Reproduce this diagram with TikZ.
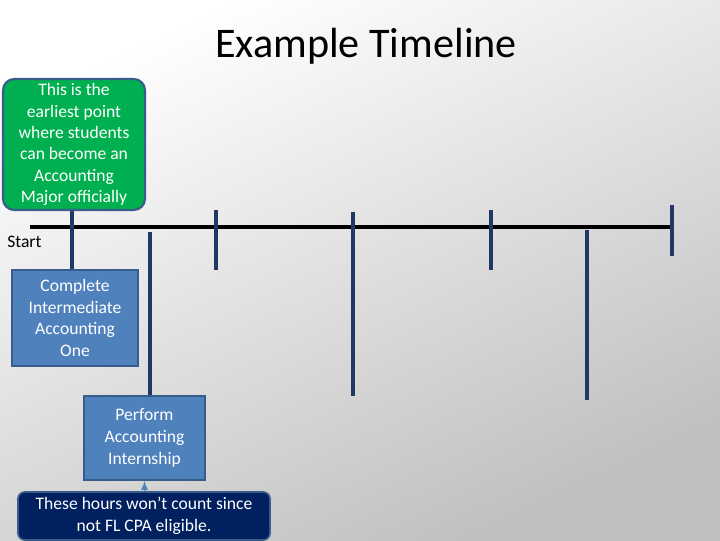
\documentclass[tikz,border=0pt]{standalone}
\usepackage{fontspec}
\setmainfont{Carlito}
\usetikzlibrary{positioning}
\definecolor{tickblue}{RGB}{31,56,100}
\definecolor{boxblue}{RGB}{79,129,189}
\definecolor{boxedge}{RGB}{56,93,138}
\definecolor{majorgreen}{RGB}{0,176,80}
\definecolor{navy}{RGB}{0,32,96}
\begin{document}
\begin{tikzpicture}[x=0.025cm,y=-0.025cm,
    tick/.style={draw=tickblue,line width=2.2pt},
    stepbox/.style={draw=boxedge,line width=1.2pt,fill=boxblue,text=white,align=center,font=\fontsize{12.5}{15.5}\selectfont,inner sep=1pt},
    greenbox/.style={draw=boxedge,line width=1.5pt,fill=majorgreen,text=white,align=center,rounded corners=8pt,font=\fontsize{12.5}{15.2}\selectfont,inner sep=1pt},
    notebox/.style={draw=boxedge,line width=1.2pt,fill=navy,text=white,align=center,rounded corners=5pt,font=\fontsize{12.5}{15.5}\selectfont,inner sep=1pt}]
   \shade[top color=white,bottom color=black!25,shading angle=25] (0,0) rectangle (720,540);
   \useasboundingbox (0,0) rectangle (720,540);
   \node (title) at (366,46) {\fontsize{30}{33}\selectfont Example Timeline};
   \node[greenbox,minimum width=3.55cm,minimum height=3.275cm] (major) at (74,144.5)
     {This is the\\earliest point\\where students\\can become an\\Accounting\\Major officially};
   \node[stepbox,minimum width=3.15cm,minimum height=2.4cm] (inter) at (75,318)
     {Complete\\Intermediate\\Accounting\\One};
   \node[stepbox,minimum width=3.025cm,minimum height=2.1cm] (intern) at (144.5,438)
     {Perform\\Accounting\\Internship};
   \node[notebox,minimum width=6.3cm,minimum height=1.2cm] (note) at (144,516)
     {These hours won’t count since\\not FL CPA eligible.};
   \node[anchor=west,inner sep=0pt,font=\fontsize{12.5}{14}\selectfont] (start) at (7,242) {Start};
   % timeline
   \coordinate (t0) at (30,227);
   \coordinate (t1) at (672,227);
   \draw[line width=3pt] (t0) -- (t1);
   % ticks
   \coordinate (m1) at (72,0);
   \coordinate (m2) at (150,232);
   \draw[tick] (major.south -| m1) -- (inter.north -| m1);
   \draw[tick] (m2) -- (intern.north -| m2);
   \foreach \x/\a/\b in {216/210/270,353/212/396,491/210/270,587/230/400,672/205/256}
     \draw[tick] (\x,\a) -- (\x,\b);
   \draw[-latex,boxblue,line width=1.2pt] (note.north -| intern.south) -- (intern.south);
\end{tikzpicture}
\end{document}
